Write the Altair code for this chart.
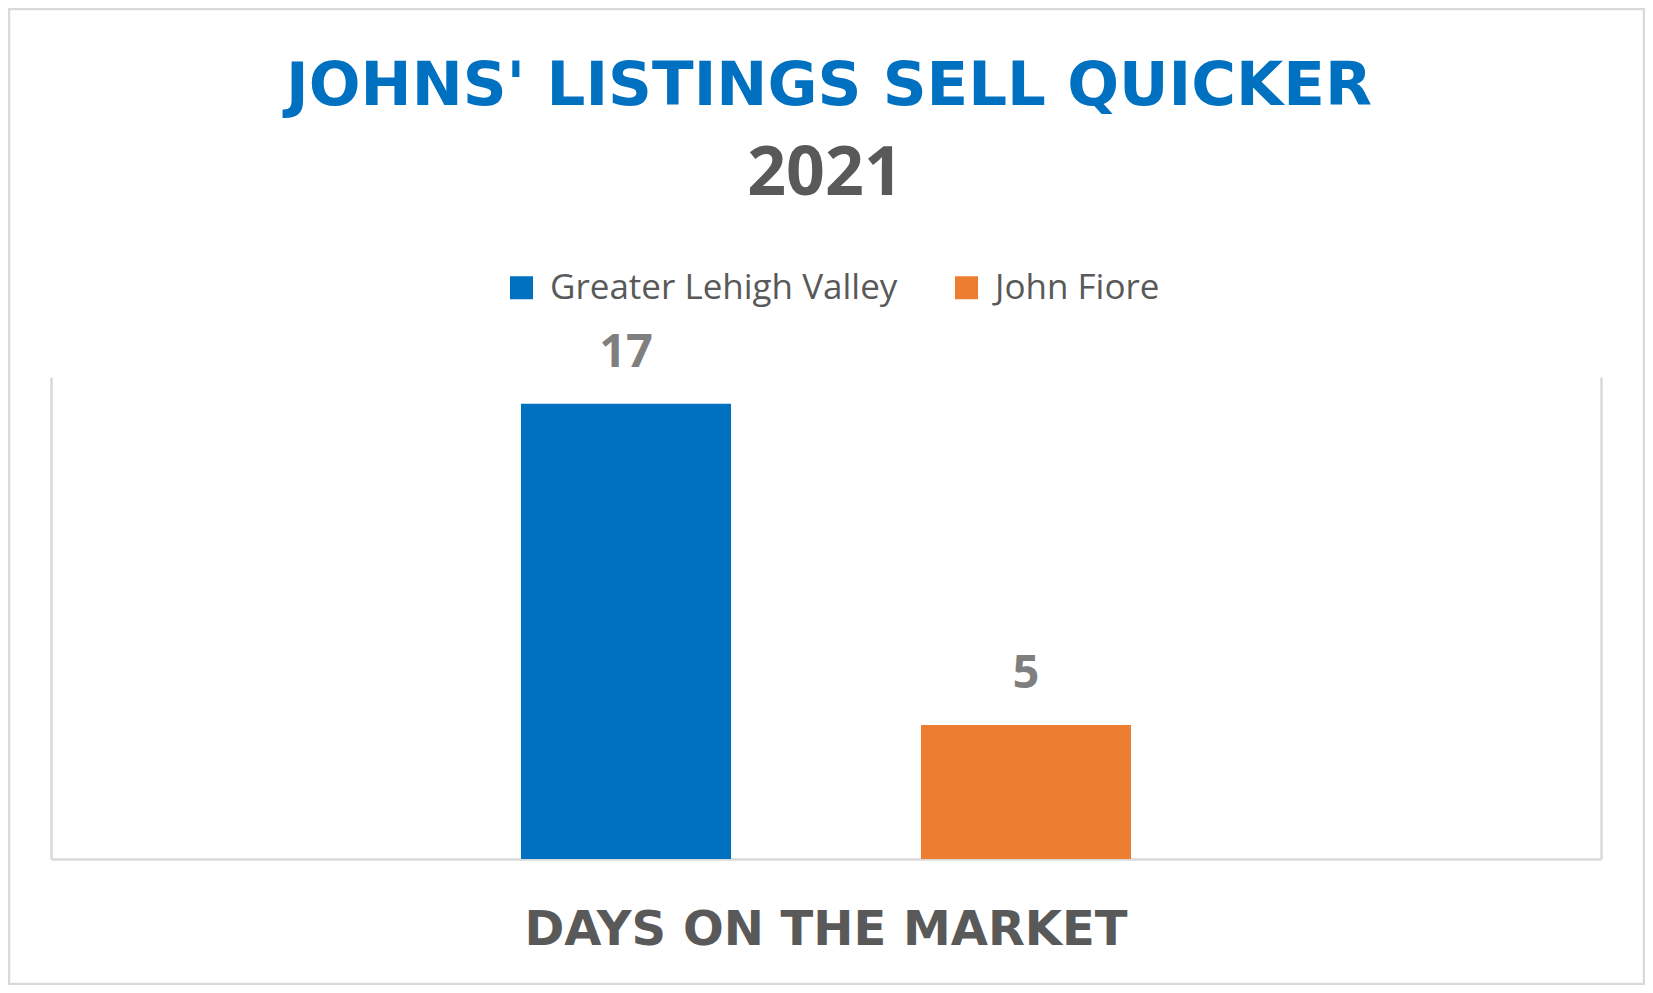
import altair as alt
import pandas as pd

# ---- data ----
category = ["DAYS ON THE MARKET"]
series = ["Greater Lehigh Valley", "John Fiore"]
values = [17, 5]
colors = ["#0070C0", "#ED7D31"]
title_lines = ["JOHNS' LISTINGS SELL QUICKER", "2021"]

df = pd.DataFrame({
    "metric": category * len(series),
    "series": series,
    "days": values,
})

W, H = 1550, 482
PAD = {"left": 43, "top": 369, "right": 44, "bottom": 126}

x_scale = alt.Scale(paddingOuter=0.7705, paddingInner=0)
x_enc = alt.X(
    "metric:N",
    scale=x_scale,
    axis=alt.Axis(
        title=None, ticks=False, labelAngle=0, labelLimit=2000,
        labelFont="DejaVu Sans", labelFontWeight="bold", labelFontSize=48,
        labelColor="#595959", labelPadding=47,
        domainColor="#D9D9D9", domainWidth=2.5,
    ),
)
xoff_enc = alt.XOffset("series:N", sort=series,
                       scale=alt.Scale(paddingInner=0.475, paddingOuter=0))
y_scale = alt.Scale(domain=[0, 18], nice=False)

bars = alt.Chart(df).mark_bar().encode(
    x=x_enc,
    xOffset=xoff_enc,
    y=alt.Y("days:Q", scale=y_scale,
            axis=alt.Axis(title=None, labels=False, ticks=False, grid=False,
                          domainColor="#D9D9D9", domainWidth=2.5, orient="left")),
    color=alt.Color(
        "series:N", sort=series,
        scale=alt.Scale(domain=series, range=colors),
        legend=alt.Legend(
            title=None, orient="none", legendX=453, legendY=-107,
            direction="horizontal", symbolType="square", symbolSize=529,
            symbolStrokeWidth=0, labelFont="Open Sans", labelFontSize=35,
            labelColor="#595959", labelOffset=11, columnPadding=51, padding=0,
            labelLimit=2000,
        ),
    ),
)

labels = alt.Chart(df).mark_text(
    font="Open Sans", fontWeight="bold", fontSize=47, color="#7F7F7F",
    baseline="alphabetic", dy=-37,
).encode(
    x=alt.X("metric:N", scale=x_scale),
    xOffset=xoff_enc,
    y=alt.Y("days:Q", scale=y_scale,
            axis=alt.Axis(title=None, labels=False, ticks=False, grid=False,
                          domainColor="#D9D9D9", domainWidth=2.5, orient="right")),
    text=alt.Text("days:Q"),
)

frame = alt.Chart(pd.DataFrame({"k": [0]})).mark_rect(
    fill=None, stroke="#D9D9D9", strokeWidth=2.5
).encode(
    x=alt.value(-PAD["left"] + 1),
    x2=alt.value(W + PAD["right"] - 1),
    y=alt.value(-PAD["top"] + 1),
    y2=alt.value(H + PAD["bottom"] - 1),
)

title1 = alt.Chart(pd.DataFrame({"t": [title_lines[0]]})).mark_text(
    font="DejaVu Sans", fontWeight="bold", fontSize=61, color="#0070C0",
    baseline="alphabetic", align="center",
).encode(x=alt.value(778), y=alt.value(-272), text="t:N")

title2 = alt.Chart(pd.DataFrame({"t": [title_lines[1]]})).mark_text(
    font="Open Sans", fontWeight="bold", fontSize=68, color="#595959",
    baseline="alphabetic", align="center",
).encode(x=alt.value(774), y=alt.value(-182), text="t:N")

chart = alt.layer(frame, title1, title2, bars, labels).resolve_axis(y="independent").properties(
    width=W, height=H,
    autosize=alt.AutoSizeParams(type="none"),
    padding=PAD,
    background="white",
).configure_view(stroke=None)

chart.save("out.html", embed_options={"renderer": "svg", "actions": False})
